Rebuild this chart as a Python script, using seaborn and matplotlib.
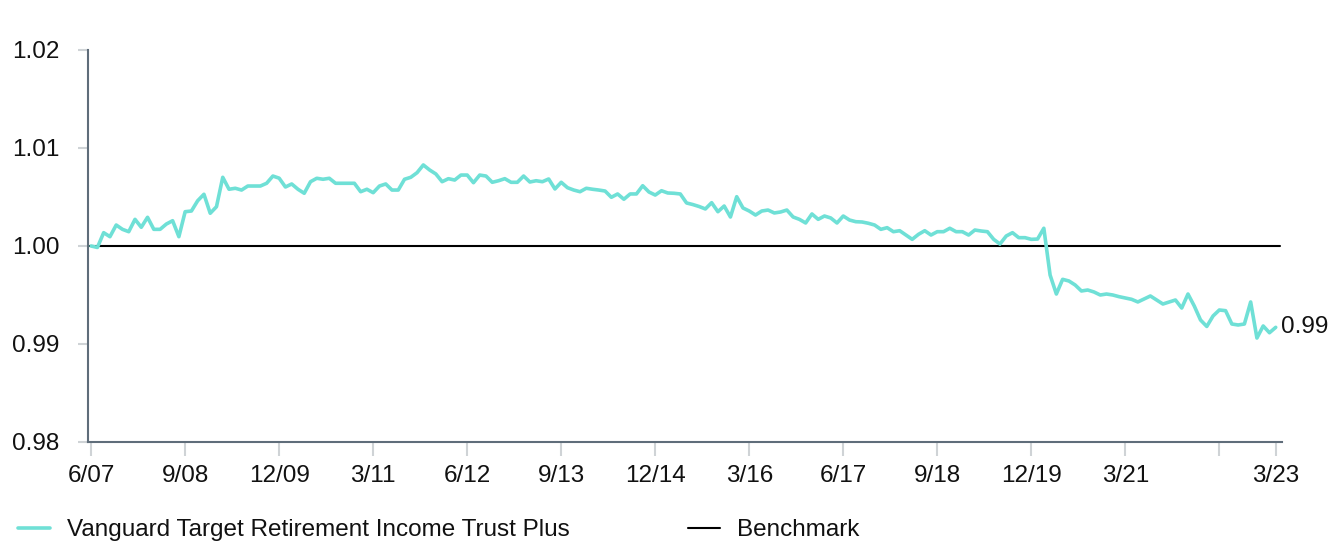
import numpy as np
import pandas as pd
import matplotlib
matplotlib.use("Agg")
import matplotlib.pyplot as plt
import seaborn as sns

# ---------------- data ----------------
start_month = "2007-06"
fund_name = "Vanguard Target Retirement Income Trust Plus"
bench_name = "Benchmark"
benchmark_value = 1.00

fund_values = [
    1.00000, 0.99985, 1.00136, 1.00095, 1.00214, 1.00170, 1.00146, 1.00272, 1.00191, 1.00293,
    1.00170, 1.00170, 1.00224, 1.00258, 1.00095, 1.00350, 1.00357, 1.00462, 1.00528, 1.00334,
    1.00401, 1.00701, 1.00579, 1.00589, 1.00571, 1.00612, 1.00612, 1.00612, 1.00640, 1.00714,
    1.00692, 1.00602, 1.00633, 1.00579, 1.00538, 1.00656, 1.00691, 1.00681, 1.00691, 1.00640,
    1.00640, 1.00640, 1.00640, 1.00554, 1.00579, 1.00544, 1.00612, 1.00633, 1.00571, 1.00571,
    1.00681, 1.00701, 1.00748, 1.00827, 1.00776, 1.00735, 1.00656, 1.00687, 1.00673, 1.00724,
    1.00724, 1.00646, 1.00724, 1.00714, 1.00650, 1.00666, 1.00687, 1.00650, 1.00650, 1.00714,
    1.00653, 1.00666, 1.00656, 1.00684, 1.00582, 1.00650, 1.00595, 1.00571, 1.00554, 1.00589,
    1.00579, 1.00571, 1.00561, 1.00497, 1.00531, 1.00477, 1.00531, 1.00531, 1.00615, 1.00551,
    1.00520, 1.00564, 1.00541, 1.00538, 1.00531, 1.00439, 1.00423, 1.00403, 1.00378, 1.00442,
    1.00350, 1.00408, 1.00296, 1.00503, 1.00388, 1.00357, 1.00316, 1.00357, 1.00367, 1.00337,
    1.00347, 1.00367, 1.00296, 1.00272, 1.00235, 1.00327, 1.00272, 1.00306, 1.00286, 1.00235,
    1.00306, 1.00265, 1.00248, 1.00245, 1.00232, 1.00214, 1.00170, 1.00187, 1.00146, 1.00156,
    1.00112, 1.00068, 1.00119, 1.00156, 1.00112, 1.00146, 1.00146, 1.00181, 1.00146, 1.00146,
    1.00112, 1.00163, 1.00153, 1.00146, 1.00068, 1.00020, 1.00102, 1.00136, 1.00085, 1.00085,
    1.00068, 1.00071, 1.00181, 0.99704, 0.99510, 0.99660, 0.99643, 0.99602, 0.99541, 0.99551,
    0.99531, 0.99500, 0.99510, 0.99500, 0.99483, 0.99469, 0.99456, 0.99429, 0.99459, 0.99490,
    0.99449, 0.99408, 0.99429, 0.99449, 0.99367, 0.99510, 0.99388, 0.99245, 0.99179, 0.99286,
    0.99347, 0.99340, 0.99204, 0.99194, 0.99204, 0.99429, 0.99061, 0.99184, 0.99115, 0.99170,
]

tick_months = ["2007-06", "2008-09", "2009-12", "2011-03", "2012-06", "2013-09", "2014-12",
               "2016-03", "2017-06", "2018-09", "2019-12", "2021-03", "2022-06", "2023-03"]
tick_labels = ["6/07", "9/08", "12/09", "3/11", "6/12", "9/13", "12/14",
               "3/16", "6/17", "9/18", "12/19", "3/21", "", "3/23"]
y_ticks = [0.98, 0.99, 1.00, 1.01, 1.02]

# ---------------- styling ----------------
FUND_COLOR = "#6fe0d6"
SPINE_COLOR = "#5f6d7a"
TICK_COLOR = "#cfd3d6"
TEXT_COLOR = "#111111"
FS = 17.5

sns.set_theme(style="white")
plt.rcParams["font.family"] = ["Liberation Sans", "DejaVu Sans"]

W, H = 1344, 545
fig = plt.figure(figsize=(W / 100, H / 100), dpi=100)
ax = fig.add_axes([88 / W, (H - 442) / H, (1282 - 88) / W, (442 - 50) / H])

def month_index(s):
    y, m = map(int, s.split("-"))
    y0, m0 = map(int, start_month.split("-"))
    return (y - y0) * 12 + (m - m0)

df = pd.DataFrame({"month": np.arange(len(fund_values)), "value": fund_values})

ax.axhline(benchmark_value, xmin=0, xmax=0.998, color="black", lw=1.5, zorder=2, label=bench_name)
sns.lineplot(data=df, x="month", y="value", color=FUND_COLOR, lw=2.6, ax=ax, zorder=3,
             label=fund_name)

ax.set_xlim(-0.5, month_index("2023-03") + 1.0)
ax.set_ylim(y_ticks[0], y_ticks[-1])

ax.set_xticks([month_index(t) for t in tick_months])
ax.set_xticklabels(tick_labels)
ax.set_yticks(y_ticks)
ax.set_yticklabels([f"{v:.2f}" for v in y_ticks])
ax.set_xlabel("")
ax.set_ylabel("")

for side in ["top", "right"]:
    ax.spines[side].set_visible(False)
for side in ["left", "bottom"]:
    ax.spines[side].set_color(SPINE_COLOR)
    ax.spines[side].set_linewidth(1.5)

ax.tick_params(axis="x", which="both", bottom=True, length=10, width=1.5, color=TICK_COLOR,
               pad=6.5, labelsize=FS, labelcolor=TEXT_COLOR)
ax.tick_params(axis="y", which="both", left=True, length=7, width=1.5, color=TICK_COLOR,
               pad=13.5, labelsize=FS, labelcolor=TEXT_COLOR)

# end label
last = len(fund_values) - 1
ax.annotate(f"{fund_values[-1]:.2f}", xy=(last, fund_values[-1]), xytext=(4, 0),
            textcoords="offset points", va="center", ha="left", fontsize=FS,
            color=TEXT_COLOR, annotation_clip=False)

# legend
handles, labels = ax.get_legend_handles_labels()
order = [labels.index(fund_name), labels.index(bench_name)]
handles = [handles[i] for i in order]
labels = [labels[i] for i in order]
if ax.get_legend() is not None:
    ax.get_legend().remove()
leg = fig.legend(handles, labels, loc="center left", bbox_to_anchor=(18 / W, 15 / H),
                 ncol=2, frameon=False, fontsize=FS, handlelength=1.3, handletextpad=0.7,
                 columnspacing=4.9, borderpad=0, borderaxespad=0)
for t in leg.get_texts():
    t.set_color(TEXT_COLOR)

fig.savefig("out.png", dpi=100)
